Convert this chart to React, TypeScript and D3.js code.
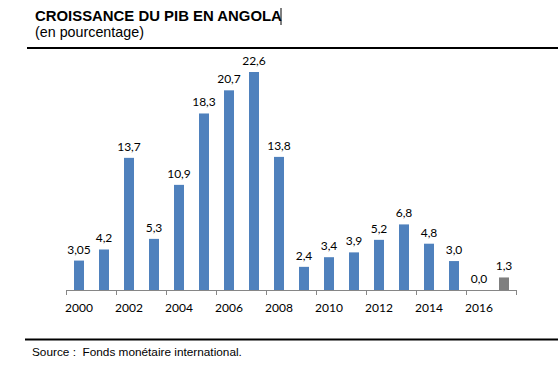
import React from "react";
import * as d3 from "d3";

const years = ["2000", "2001", "2002", "2003", "2004", "2005", "2006", "2007", "2008", "2009", "2010", "2011", "2012", "2013", "2014", "2015", "2016", "2017"];
const growth = [3.05, 4.2, 13.7, 5.3, 10.9, 18.3, 20.7, 22.6, 13.8, 2.4, 3.4, 3.9, 5.2, 6.8, 4.8, 3.0, 0.0, 1.3];
const valueLabels = ["3,05", "4,2", "13,7", "5,3", "10,9", "18,3", "20,7", "22,6", "13,8", "2,4", "3,4", "3,9", "5,2", "6,8", "4,8", "3,0", "0,0", "1,3"];
const tickYears = ["2000", "2002", "2004", "2006", "2008", "2010", "2012", "2014", "2016"];
const forecastYears = ["2017"];

const W = 558;
const H = 367;

const App: React.FC = () => {
  const x0 = 66.5;
  const x1 = 516.5;
  const baseY = 290;

  const x = d3.scaleBand<string>().domain(years).range([x0, x1]).paddingInner(0.6).paddingOuter(0.3);
  const step = x.step();
  const y = d3.scaleLinear().domain([0, 22.6]).range([baseY, 72]);

  const font = "'Liberation Sans', Arial, sans-serif";
  const chartFont = "Lato, 'Open Sans', sans-serif";

  return (
    <svg width={W} height={H} style={{ position: "absolute", left: 0, top: 0, background: "#fff" }}>
      <text x={35} y={21} fontFamily={font} fontWeight="bold" fontSize={14.9} fill="#000">
        CROISSANCE DU PIB EN ANGOLA
      </text>
      <line x1={281} x2={281} y1={8} y2={25} stroke="#000" strokeWidth={1} />
      <text x={35} y={37} fontFamily={font} fontSize={14.3} fill="#000">
        (en pourcentage)
      </text>
      <line x1={27} x2={W} y1={48} y2={48} stroke="#000" strokeWidth={2} />

      {years.map((yr, i) =>
        growth[i] > 0 ? (
          <rect
            key={yr}
            x={x(yr)}
            y={y(growth[i])}
            width={x.bandwidth()}
            height={baseY - y(growth[i])}
            fill={forecastYears.includes(yr) ? "#7f7f7f" : "#4f81bd"}
          />
        ) : null
      )}

      {years.map((yr, i) => (
        <text
          key={"l" + yr}
          x={(x(yr) as number) + x.bandwidth() / 2}
          y={y(growth[i]) - 7}
          textAnchor="middle"
          fontFamily={chartFont}
          fontSize={12}
          fill="#000"
        >
          {valueLabels[i]}
        </text>
      ))}

      <line x1={x0} x2={x1} y1={baseY + 0.5} y2={baseY + 0.5} stroke="#868686" strokeWidth={1} />
      {d3.range(0, years.length + 1, 2).map((k) => (
        <line key={"t" + k} x1={x0 + k * step} x2={x0 + k * step} y1={baseY} y2={baseY + 5} stroke="#868686" strokeWidth={1} />
      ))}
      {tickYears.map((yr) => (
        <text
          key={"x" + yr}
          x={(x(yr) as number) + x.bandwidth() / 2}
          y={312}
          textAnchor="middle"
          fontFamily={chartFont}
          fontSize={12}
          fill="#000"
        >
          {yr}
        </text>
      ))}

      <line x1={25} x2={W} y1={339.5} y2={339.5} stroke="#000" strokeWidth={2} />
      <text x={32} y={356} fontFamily={font} fontSize={11.8} fill="#000" style={{ whiteSpace: "pre" }}>
        {"Source :  Fonds monétaire international."}
      </text>
    </svg>
  );
};

export default App;
